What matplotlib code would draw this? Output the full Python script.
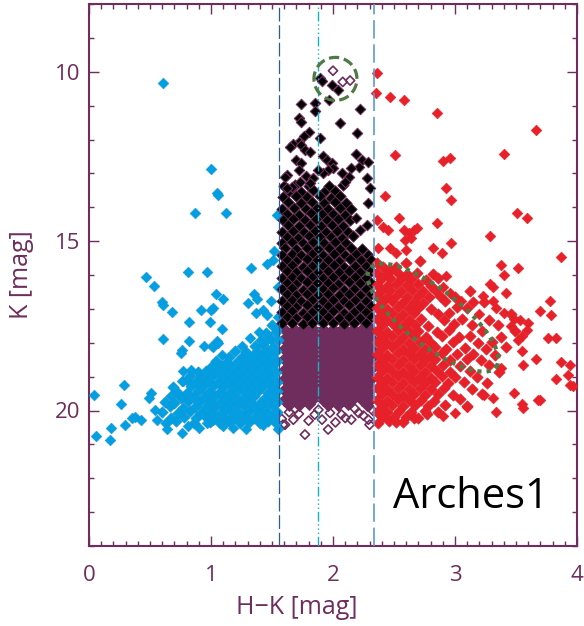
import matplotlib
matplotlib.use('Agg')

from matplotlib import pyplot as plt
from matplotlib.ticker import MultipleLocator
import numpy as np

plt.rcParams['font.family'] = ['Open Sans', 'DejaVu Sans']

# colour cuts in H-K
cut_blue = 1.557
cut_mid = 1.877
cut_red = 2.336

# foreground / blue stars (H-K, K): scattered ones, then the dense clump
blue_field = [
    (0.61, 10.34), (1.00, 12.87), (1.05, 13.58), (1.06, 13.64), (0.87, 14.17), (1.12, 14.17), (1.54, 14.22),
    (0.465, 16.06), (0.533, 16.31), (0.81, 15.90), (0.97, 15.90), (1.33, 15.78), (1.46, 15.68), (1.51, 15.55),
    (1.52, 15.29), (0.60, 16.81), (0.61, 16.88), (0.68, 17.10), (0.92, 17.03), (1.00, 17.03), (1.02, 16.98),
    (1.04, 16.56), (1.10, 16.70), (1.30, 16.83), (1.35, 16.56), (1.38, 16.70), (1.49, 16.78), (1.55, 16.36),
    (1.37, 17.12), (1.43, 17.03), (1.46, 17.17), (1.55, 17.24), (0.82, 17.39), (0.99, 17.39), (1.09, 17.59),
    (0.61, 17.89), (0.76, 18.20), (0.75, 18.30), (0.82, 17.96), (1.005, 18.10), (1.05, 17.96), (1.09, 18.35),
    (1.25, 18.10), (1.32, 17.86), (1.39, 17.67), (1.46, 17.92), (0.94, 18.10), (1.02, 18.12), (1.06, 18.00),
    (0.29, 19.24), (0.04, 19.55), (0.26, 19.80), (0.51, 19.48), (0.49, 19.63), (0.54, 19.98), (0.77, 19.14),
    (0.057, 20.74), (0.17, 20.88), (0.18, 20.52), (0.295, 20.42), (0.35, 20.22), (0.38, 20.19), (0.43, 20.27),
    (0.56, 20.27), (0.64, 20.56), (0.76, 20.66), (0.81, 20.46), (0.90, 20.51), (0.965, 20.37), (1.02, 20.27),
    (1.10, 20.46), (1.18, 20.51), (1.29, 20.56), (1.43, 20.42), (1.55, 20.56),
    (0.77, 18.84), (0.84, 18.80), (0.80, 19.10), (0.76, 19.14),
]
blue_core = [
    (0.63, 20.37), (0.71, 20.32), (0.86, 20.38), (0.99, 20.33), (1.07, 20.36), (1.15, 20.31), (1.24, 20.38),
    (1.31, 20.34), (1.40, 20.36), (1.47, 20.30), (1.53, 20.37),
    (0.67, 20.22), (0.78, 20.18), (0.88, 20.21), (0.95, 20.17), (1.03, 20.23), (1.11, 20.19), (1.19, 20.22),
    (1.27, 20.17), (1.35, 20.21), (1.44, 20.18), (1.51, 20.23),
    (0.60, 20.04), (0.73, 20.07), (0.83, 20.02), (0.92, 20.06), (1.00, 20.03), (1.08, 20.07), (1.16, 20.04),
    (1.23, 20.06), (1.31, 20.02), (1.39, 20.05), (1.47, 20.07), (1.54, 20.03),
    (0.66, 19.88), (0.77, 19.92), (0.87, 19.89), (0.96, 19.91), (1.04, 19.87), (1.12, 19.92), (1.20, 19.88),
    (1.28, 19.91), (1.36, 19.89), (1.43, 19.93), (1.51, 19.88),
    (0.62, 19.74), (0.70, 19.77), (0.81, 19.73), (0.90, 19.76), (0.99, 19.72), (1.07, 19.77), (1.15, 19.74),
    (1.24, 19.76), (1.32, 19.73), (1.40, 19.77), (1.47, 19.74), (1.54, 19.76),
    (0.67, 19.58), (0.75, 19.62), (0.85, 19.59), (0.94, 19.61), (1.03, 19.57), (1.11, 19.62), (1.19, 19.59),
    (1.27, 19.61), (1.35, 19.58), (1.44, 19.62), (1.52, 19.59),
    (0.72, 19.44), (0.80, 19.47), (0.89, 19.43), (0.98, 19.46), (1.07, 19.44), (1.15, 19.47), (1.22, 19.43),
    (1.30, 19.46), (1.38, 19.44), (1.47, 19.47), (1.54, 19.43),
    (0.69, 19.31), (0.84, 19.28), (0.93, 19.32), (1.02, 19.29), (1.10, 19.31), (1.18, 19.28), (1.26, 19.32),
    (1.34, 19.29), (1.42, 19.31), (1.50, 19.28),
    (0.88, 19.16), (0.97, 19.13), (1.06, 19.17), (1.14, 19.14), (1.22, 19.16), (1.30, 19.13), (1.38, 19.17),
    (1.46, 19.14), (1.54, 19.16),
    (0.83, 18.99), (0.92, 19.02), (1.01, 18.98), (1.10, 19.01), (1.18, 18.99), (1.26, 19.02), (1.34, 18.98),
    (1.42, 19.01), (1.50, 18.99),
    (0.89, 18.86), (0.96, 18.83), (1.05, 18.87), (1.14, 18.84), (1.22, 18.86), (1.30, 18.83), (1.38, 18.87),
    (1.46, 18.84), (1.53, 18.86),
    (1.00, 18.71), (1.09, 18.68), (1.18, 18.72), (1.26, 18.69), (1.34, 18.71), (1.42, 18.68), (1.50, 18.72),
    (1.04, 18.54), (1.13, 18.57), (1.22, 18.53), (1.30, 18.56), (1.38, 18.54), (1.46, 18.57), (1.54, 18.53),
    (1.15, 18.41), (1.26, 18.38), (1.34, 18.42), (1.42, 18.39), (1.50, 18.41),
    (1.20, 18.24), (1.29, 18.27), (1.38, 18.23), (1.46, 18.26), (1.53, 18.24),
    (1.36, 18.11), (1.43, 18.08), (1.51, 18.12), (1.41, 17.91), (1.49, 17.88), (1.55, 17.92),
    (1.45, 17.71), (1.53, 17.68), (1.50, 17.49), (1.55, 17.53),
]

# bright cluster members (black): upper scattered ones, then the dense body
black_field = [
    (1.89, 10.19), (1.91, 10.26), (1.99, 10.39), (2.04, 10.54), (1.97, 10.83), (1.74, 10.96), (1.85, 10.91),
    (1.85, 11.15), (2.22, 11.10), (1.72, 11.37), (1.74, 11.47), (2.06, 11.52), (2.20, 11.81), (1.80, 11.77),
    (1.89, 11.96), (1.76, 11.89), (1.72, 12.06), (1.67, 12.13), (1.65, 12.23), (1.74, 12.16), (1.77, 12.31),
    (1.81, 12.36), (1.70, 12.60), (1.74, 12.70), (1.72, 12.90), (1.62, 13.04), (1.61, 13.10), (1.92, 12.50),
    (1.95, 12.60), (1.99, 12.70), (2.00, 12.85), (1.96, 12.90), (1.92, 13.00), (1.88, 12.90), (2.19, 12.42),
    (2.24, 12.60), (2.29, 12.65), (2.21, 12.80), (2.15, 12.85), (2.07, 13.00), (2.13, 13.10), (2.10, 13.24),
    (2.28, 13.14), (1.78, 13.09), (1.84, 13.14), (1.81, 13.29), (1.73, 13.24), (1.66, 13.39), (1.62, 13.44),
    (2.30, 13.44), (2.29, 13.88), (2.19, 14.32), (2.22, 14.67), (2.28, 14.52),
]
black_core = [
    (1.60, 13.36), (1.69, 13.33), (1.80, 13.37), (1.97, 13.38), (2.08, 13.33),
    (1.64, 13.52), (1.74, 13.55), (1.84, 13.50), (1.93, 13.54), (2.02, 13.51),
    (1.59, 13.70), (1.70, 13.67), (1.79, 13.71), (1.89, 13.68), (1.98, 13.72), (2.06, 13.67),
    (1.63, 13.85), (1.74, 13.88), (1.83, 13.84), (1.93, 13.87), (2.02, 13.85), (2.11, 13.88),
    (1.58, 14.04), (1.68, 14.01), (1.78, 14.05), (1.87, 14.02), (1.96, 14.04), (2.06, 14.01), (2.15, 14.05),
    (1.62, 14.19), (1.72, 14.22), (1.82, 14.18), (1.91, 14.21), (2.00, 14.19), (2.10, 14.22),
    (1.59, 14.38), (1.67, 14.35), (1.77, 14.39), (1.86, 14.36), (1.95, 14.38), (2.04, 14.35), (2.14, 14.39),
    (1.63, 14.53), (1.72, 14.56), (1.81, 14.52), (1.90, 14.55), (1.99, 14.53), (2.08, 14.56),
    (1.58, 14.72), (1.67, 14.69), (1.76, 14.73), (1.85, 14.70), (1.94, 14.72), (2.03, 14.69), (2.12, 14.73),
    (1.62, 14.87), (1.71, 14.90), (1.80, 14.86), (1.89, 14.89), (1.98, 14.87), (2.07, 14.90), (2.16, 14.86),
    (1.58, 15.06), (1.66, 15.03), (1.75, 15.07), (1.84, 15.04), (1.93, 15.06), (2.02, 15.03), (2.11, 15.07),
    (1.61, 15.21), (1.70, 15.24), (1.79, 15.20), (1.88, 15.23), (1.97, 15.21), (2.06, 15.24), (2.15, 15.20),
    (2.24, 15.23),
    (1.58, 15.40), (1.66, 15.37), (1.74, 15.41), (1.83, 15.38), (1.92, 15.40), (2.01, 15.37), (2.10, 15.41),
    (2.19, 15.38), (2.29, 15.40),
    (1.62, 15.55), (1.70, 15.58), (1.79, 15.54), (1.87, 15.57), (1.96, 15.55), (2.05, 15.58), (2.14, 15.54),
    (2.23, 15.57), (2.31, 15.55),
    (1.58, 15.74), (1.66, 15.71), (1.75, 15.75), (1.83, 15.72), (1.92, 15.74), (2.01, 15.71), (2.09, 15.75),
    (2.18, 15.72), (2.27, 15.74),
    (1.62, 15.89), (1.70, 15.92), (1.79, 15.88), (1.88, 15.91), (1.96, 15.89), (2.05, 15.92), (2.13, 15.88),
    (2.22, 15.91), (2.31, 15.89),
    (1.58, 16.08), (1.66, 16.05), (1.74, 16.09), (1.83, 16.06), (1.92, 16.08), (2.00, 16.05), (2.09, 16.09),
    (2.18, 16.06), (2.27, 16.08),
    (1.62, 16.23), (1.70, 16.26), (1.79, 16.22), (1.87, 16.25), (1.96, 16.23), (2.04, 16.26), (2.13, 16.22),
    (2.22, 16.25), (2.31, 16.23),
    (1.58, 16.42), (1.66, 16.39), (1.75, 16.43), (1.83, 16.40), (1.92, 16.42), (2.00, 16.39), (2.09, 16.43),
    (2.17, 16.40), (2.27, 16.42),
    (1.62, 16.57), (1.70, 16.60), (1.79, 16.56), (1.88, 16.59), (1.96, 16.57), (2.05, 16.60), (2.13, 16.56),
    (2.22, 16.59), (2.31, 16.57),
    (1.58, 16.76), (1.66, 16.73), (1.74, 16.77), (1.83, 16.74), (1.92, 16.76), (2.00, 16.73), (2.09, 16.77),
    (2.18, 16.74), (2.27, 16.76),
    (1.62, 16.91), (1.70, 16.94), (1.79, 16.90), (1.87, 16.93), (1.96, 16.91), (2.04, 16.94), (2.13, 16.90),
    (2.22, 16.93), (2.31, 16.91),
    (1.58, 17.10), (1.66, 17.07), (1.75, 17.11), (1.83, 17.08), (1.92, 17.10), (2.00, 17.07), (2.09, 17.11),
    (2.17, 17.08), (2.27, 17.10),
    (1.62, 17.25), (1.70, 17.28), (1.79, 17.24), (1.88, 17.27), (1.96, 17.25), (2.05, 17.28), (2.13, 17.24),
    (2.22, 17.27), (2.31, 17.25),
    (1.58, 17.43), (1.66, 17.41), (1.75, 17.44), (1.83, 17.42), (1.92, 17.43), (2.00, 17.41), (2.09, 17.44),
    (2.17, 17.42), (2.27, 17.43),
]

# faint cluster members (purple, dense core)
purple_core = [
    (1.60, 17.58), (1.68, 17.60), (1.76, 17.57), (1.84, 17.59), (1.92, 17.58), (2.00, 17.60), (2.08, 17.57),
    (2.16, 17.59), (2.24, 17.58), (2.31, 17.60),
    (1.64, 17.73), (1.72, 17.71), (1.80, 17.74), (1.88, 17.72), (1.96, 17.73), (2.04, 17.71), (2.12, 17.74),
    (2.20, 17.72), (2.28, 17.73),
    (1.60, 17.88), (1.68, 17.86), (1.76, 17.89), (1.84, 17.87), (1.92, 17.88), (2.00, 17.86), (2.08, 17.89),
    (2.16, 17.87), (2.24, 17.88), (2.31, 17.86),
    (1.64, 18.03), (1.72, 18.05), (1.80, 18.02), (1.88, 18.04), (1.96, 18.03), (2.04, 18.05), (2.12, 18.02),
    (2.20, 18.04), (2.28, 18.03),
    (1.60, 18.19), (1.68, 18.17), (1.76, 18.20), (1.84, 18.18), (1.92, 18.19), (2.00, 18.17), (2.08, 18.20),
    (2.16, 18.18), (2.24, 18.19), (2.31, 18.17),
    (1.64, 18.33), (1.72, 18.35), (1.80, 18.32), (1.88, 18.34), (1.96, 18.33), (2.04, 18.35), (2.12, 18.32),
    (2.20, 18.34), (2.28, 18.33),
    (1.60, 18.48), (1.68, 18.46), (1.76, 18.49), (1.84, 18.47), (1.92, 18.48), (2.00, 18.46), (2.08, 18.49),
    (2.16, 18.47), (2.24, 18.48), (2.31, 18.46),
    (1.64, 18.63), (1.72, 18.65), (1.80, 18.62), (1.88, 18.64), (1.96, 18.63), (2.04, 18.65), (2.12, 18.62),
    (2.20, 18.64), (2.28, 18.63),
    (1.60, 18.79), (1.68, 18.77), (1.76, 18.80), (1.84, 18.78), (1.92, 18.79), (2.00, 18.77), (2.08, 18.80),
    (2.16, 18.78), (2.24, 18.79), (2.31, 18.77),
    (1.64, 18.93), (1.72, 18.95), (1.80, 18.92), (1.88, 18.94), (1.96, 18.93), (2.04, 18.95), (2.12, 18.92),
    (2.20, 18.94), (2.28, 18.93),
    (1.60, 19.08), (1.68, 19.06), (1.76, 19.09), (1.84, 19.07), (1.92, 19.08), (2.00, 19.06), (2.08, 19.09),
    (2.16, 19.07), (2.24, 19.08), (2.31, 19.06),
    (1.64, 19.23), (1.72, 19.25), (1.80, 19.22), (1.88, 19.24), (1.96, 19.23), (2.04, 19.25), (2.12, 19.22),
    (2.20, 19.24), (2.28, 19.23),
    (1.60, 19.39), (1.68, 19.37), (1.76, 19.40), (1.84, 19.38), (1.92, 19.39), (2.00, 19.37), (2.08, 19.40),
    (2.16, 19.38), (2.24, 19.39), (2.31, 19.37),
    (1.64, 19.53), (1.72, 19.55), (1.80, 19.52), (1.88, 19.54), (1.96, 19.53), (2.04, 19.55), (2.12, 19.52),
    (2.20, 19.54), (2.28, 19.53),
    (1.60, 19.68), (1.68, 19.66), (1.76, 19.69), (1.84, 19.67), (1.92, 19.68), (2.00, 19.66), (2.08, 19.69),
    (2.16, 19.67), (2.24, 19.68), (2.31, 19.66),
    (1.64, 19.83), (1.72, 19.85), (1.80, 19.82), (1.96, 19.83), (2.04, 19.85), (2.12, 19.82), (2.28, 19.83),
]

# faint members drawn as open diamonds (bottom fringe and the circled ones)
purple_open = [
    (1.607, 20.42), (1.675, 20.27), (1.77, 20.71), (1.85, 20.12), (1.91, 20.27), (1.96, 20.56), (1.975, 20.07),
    (2.07, 20.12), (2.10, 20.22), (2.15, 20.27), (2.21, 20.07), (2.29, 20.27), (2.33, 20.02), (2.30, 20.42),
    (1.59, 20.42), (1.64, 20.05), (1.72, 20.10), (1.80, 20.30), (2.02, 20.35), (2.25, 20.15), (1.69, 19.95),
    (1.88, 19.98), (2.18, 19.95), (1.58, 20.25),
    (2.00, 9.97), (2.08, 10.30), (2.14, 10.26),
]

# background / reddened stars (red): scattered ones, then the dense body
red_field = [
    (2.36, 10.04), (2.35, 10.63), (2.47, 10.76), (2.58, 10.83), (2.85, 11.22), (3.66, 11.72), (2.51, 12.47),
    (2.90, 12.62), (2.96, 12.55), (3.40, 12.43), (2.93, 13.42), (2.97, 13.80), (2.43, 13.68), (3.51, 14.16),
    (3.59, 14.32), (2.54, 14.32), (2.85, 14.47), (3.29, 14.86),
    (2.36, 14.37), (2.41, 14.57), (2.45, 14.67), (2.58, 14.67), (2.62, 14.77), (2.66, 14.67), (2.69, 14.62),
    (2.59, 14.96), (2.64, 14.91),
    (2.37, 15.21), (2.47, 15.21), (2.52, 15.36), (2.60, 15.26), (2.82, 15.21), (2.89, 15.36), (2.97, 15.06),
    (3.38, 15.70), (3.52, 15.80), (3.87, 15.46), (3.40, 15.99),
    (2.93, 16.04), (2.90, 16.34), (2.96, 16.53), (3.05, 16.78), (3.23, 16.63), (3.31, 16.34), (3.29, 16.28),
    (3.42, 16.53), (3.40, 17.12), (3.53, 17.32), (3.70, 17.07), (3.78, 16.78), (3.79, 17.17),
    (3.31, 16.77), (3.34, 16.96), (3.20, 17.16), (3.60, 17.42), (3.59, 17.62), (3.55, 17.81),
    (3.52, 17.91), (3.76, 17.86), (3.83, 17.86), (3.48, 17.30), (3.46, 17.50),
    (3.87, 18.58), (3.94, 18.65), (3.93, 18.94), (3.83, 19.07), (3.94, 19.24), (3.97, 19.29), (3.66, 18.49),
    (3.56, 18.65), (3.55, 18.23), (3.38, 18.75), (3.48, 19.48), (3.55, 19.82), (3.68, 19.68), (3.34, 20.03),
    (3.56, 19.93), (3.70, 19.69), (3.31, 19.62), (3.24, 19.55), (3.10, 19.90), (3.00, 20.08), (2.90, 20.15),
]
red_core = [
    (2.36, 15.65), (2.41, 15.75), (2.47, 15.85), (2.52, 15.75), (2.60, 15.65), (2.71, 15.60),
    (2.77, 20.10), (2.66, 20.22), (2.52, 20.35), (2.46, 20.30), (2.40, 20.20),
    (2.36, 15.95), (2.44, 15.97), (2.53, 15.93), (2.61, 15.96), (2.69, 15.94), (2.82, 15.97),
    (2.39, 16.12), (2.47, 16.10), (2.56, 16.13), (2.64, 16.11), (2.76, 16.14), (2.86, 16.10),
    (2.36, 16.29), (2.44, 16.31), (2.52, 16.27), (2.61, 16.30), (2.70, 16.28), (2.80, 16.31),
    (2.39, 16.46), (2.47, 16.44), (2.56, 16.47), (2.65, 16.45), (2.74, 16.48), (2.84, 16.44), (3.12, 16.47),
    (2.36, 16.63), (2.44, 16.65), (2.52, 16.61), (2.61, 16.64), (2.70, 16.62), (2.79, 16.65), (2.88, 16.61),
    (3.00, 16.64),
    (2.40, 16.80), (2.48, 16.78), (2.57, 16.81), (2.66, 16.79), (2.74, 16.82), (2.92, 16.78), (3.15, 16.81),
    (3.24, 16.79),
    (2.36, 16.97), (2.44, 16.99), (2.53, 16.95), (2.62, 16.98), (2.70, 16.96), (2.80, 16.99), (3.02, 16.95),
    (3.10, 16.98),
    (2.40, 17.14), (2.48, 17.12), (2.57, 17.15), (2.66, 17.13), (2.86, 17.16), (2.95, 17.12), (3.46, 17.15),
    (2.36, 17.31), (2.44, 17.33), (2.53, 17.29), (2.62, 17.32), (2.72, 17.30), (2.91, 17.33), (3.06, 17.29),
    (3.28, 17.32),
    (2.40, 17.48), (2.49, 17.46), (2.58, 17.49), (2.67, 17.47), (2.78, 17.50), (2.99, 17.46), (3.14, 17.49),
    (3.35, 17.47),
    (2.36, 17.65), (2.44, 17.67), (2.53, 17.63), (2.62, 17.66), (2.70, 17.64), (2.85, 17.67), (2.95, 17.63),
    (3.22, 17.66), (3.49, 17.64),
    (2.40, 17.82), (2.48, 17.80), (2.57, 17.83), (2.66, 17.81), (2.76, 17.84), (2.89, 17.80), (3.03, 17.83),
    (3.12, 17.81), (3.38, 17.84),
    (2.36, 17.99), (2.44, 18.01), (2.53, 17.97), (2.62, 18.00), (2.71, 17.98), (2.80, 18.01), (2.98, 17.97),
    (3.19, 18.00), (3.30, 17.98),
    (2.40, 18.16), (2.48, 18.14), (2.57, 18.17), (2.66, 18.15), (2.75, 18.18), (2.84, 18.14), (2.93, 18.17),
    (3.08, 18.15), (3.25, 18.18), (3.42, 18.14),
    (2.36, 18.33), (2.44, 18.35), (2.53, 18.31), (2.62, 18.34), (2.71, 18.32), (2.80, 18.35), (2.89, 18.31),
    (3.02, 18.34), (3.15, 18.32), (3.33, 18.35),
    (2.40, 18.50), (2.48, 18.48), (2.57, 18.51), (2.66, 18.49), (2.75, 18.52), (2.84, 18.48), (2.96, 18.51),
    (3.10, 18.49), (3.21, 18.52),
    (2.36, 18.67), (2.44, 18.69), (2.53, 18.65), (2.62, 18.68), (2.71, 18.66), (2.80, 18.69), (2.90, 18.65),
    (3.04, 18.68), (3.28, 18.66),
    (2.40, 18.84), (2.48, 18.82), (2.57, 18.85), (2.66, 18.83), (2.75, 18.86), (2.85, 18.82), (2.96, 18.85),
    (3.12, 18.83), (3.36, 18.86),
    (2.36, 19.01), (2.44, 19.03), (2.53, 18.99), (2.62, 19.02), (2.71, 19.00), (2.80, 19.03), (2.89, 18.99),
    (3.00, 19.02), (3.18, 19.00),
    (2.40, 19.18), (2.48, 19.16), (2.57, 19.19), (2.66, 19.17), (2.75, 19.20), (2.84, 19.16), (2.94, 19.19),
    (3.07, 19.17), (3.26, 19.20),
    (2.36, 19.35), (2.44, 19.37), (2.53, 19.33), (2.62, 19.36), (2.71, 19.34), (2.80, 19.37), (2.91, 19.33),
    (3.14, 19.36),
    (2.40, 19.52), (2.48, 19.50), (2.57, 19.53), (2.66, 19.51), (2.75, 19.54), (2.86, 19.50), (2.98, 19.53),
    (3.22, 19.51),
    (2.36, 19.69), (2.44, 19.71), (2.53, 19.67), (2.62, 19.70), (2.72, 19.68), (2.83, 19.71), (3.04, 19.67),
    (2.40, 19.86), (2.48, 19.84), (2.57, 19.87), (2.67, 19.85), (2.78, 19.88), (2.92, 19.84), (3.10, 19.87),
    (2.36, 20.03), (2.44, 20.05), (2.54, 20.01), (2.64, 20.04), (2.75, 20.02), (2.86, 20.05),
    (2.50, 20.20), (2.60, 20.18), (2.70, 20.21), (2.37, 20.37), (2.57, 20.35),
]

# annotation shapes: centre in data units, size in pixels
circle_center = (2.02, 10.21)
circle_radius_px = 21.5
ellipse_center = (2.82, 17.26)
ellipse_axes_px = (80, 28)
ellipse_angle = -38

PURPLE = '#6E2D5C'
GREEN = '#4F7A45'
BLUE = '#00A0E3'
RED = '#E8202A'

fig = plt.figure(figsize=(5.84, 6.26), dpi=100)
ax = fig.add_axes([89 / 584, 1 - 546 / 626, 488 / 584, 542 / 626])
ax.set_xlim(0, 4)
ax.set_ylim(24, 8)

ms = 30       # single stars
ms_core = 34  # crowded parts, where the real catalogue has many more stars


def stars(pts, size, **kw):
    x, y = np.array(pts).T
    ax.scatter(x, y, s=size, marker='D', **kw)


stars(purple_core, ms_core + 4, c=PURPLE, edgecolors=PURPLE, linewidths=0.6, zorder=2)
stars(purple_open, 22, facecolors='none', edgecolors=PURPLE, linewidths=1.2, zorder=2)
stars(blue_core, ms_core, c=BLUE, edgecolors='#1E94D2', linewidths=0.4, zorder=3)
stars(blue_field, ms, c=BLUE, edgecolors='#1E94D2', linewidths=0.4, zorder=3)
stars(black_core, ms_core, c='black', edgecolors=PURPLE, linewidths=0.6, zorder=3)
stars(black_field, ms - 2, c='black', edgecolors=PURPLE, linewidths=0.8, zorder=3)
stars(red_core, ms_core, c=RED, edgecolors='#E02229', linewidths=0.4, zorder=3)
stars(red_field, ms, c=RED, edgecolors='#E02229', linewidths=0.4, zorder=3)

ax.axvline(cut_blue, color='#2A5C98', lw=0.9, dashes=(11, 3), zorder=4)
ax.axvline(cut_mid, color='#10B4BE', lw=1.0, dashes=(7, 2, 1, 2, 1, 2, 1, 2), zorder=4)
ax.axvline(cut_red, color='#5C9AD6', lw=1.2, dashes=(11, 3.5), zorder=4)


def ring(center, rx, ry, angle):
    # closed curve, sized in screen pixels around a data point
    cx, cy = ax.transData.transform(center)
    t = np.linspace(0, 2 * np.pi, 300)
    a = np.deg2rad(angle)
    ex, ey = rx * np.cos(t), ry * np.sin(t)
    px = cx + ex * np.cos(a) - ey * np.sin(a)
    py = cy + ex * np.sin(a) + ey * np.cos(a)
    return ax.transData.inverted().transform(np.column_stack([px, py])).T


cxs, cys = ring(circle_center, circle_radius_px, circle_radius_px, 0)
ax.plot(cxs, cys, color=GREEN, lw=2.3, dashes=(3.2, 1.5), zorder=5)
exs, eys = ring(ellipse_center, *ellipse_axes_px, ellipse_angle)
ax.plot(exs, eys, color=GREEN, lw=3.0, dashes=(1, 1.2), zorder=5)

ax.text(2.49, 22.87, 'Arches1', fontsize=30, color='black', ha='left', va='baseline', zorder=6)

ax.set_xticks([0, 1, 2, 3, 4])
ax.set_yticks([10, 15, 20])
ax.xaxis.set_minor_locator(MultipleLocator(0.1))
ax.yaxis.set_minor_locator(MultipleLocator(1))
ax.tick_params(which='both', direction='in', top=True, right=True, color=PURPLE,
               labelcolor=PURPLE, labelsize=16, width=1.0)
ax.tick_params(which='major', length=7)
ax.tick_params(which='minor', length=3.5)
ax.tick_params(axis='x', pad=14)
ax.tick_params(axis='y', pad=6)
for sp in ax.spines.values():
    sp.set_color(PURPLE)
    sp.set_linewidth(1.5)

fig.text(297 / 584, 1 - 607 / 626, 'H\u2212K [mag]', fontsize=18, color=PURPLE, ha='center', va='center')
fig.text(22 / 584, 1 - 275 / 626, 'K [mag]', fontsize=18, color=PURPLE, ha='center', va='center',
         rotation=90)

fig.savefig('out.png', dpi=100)
